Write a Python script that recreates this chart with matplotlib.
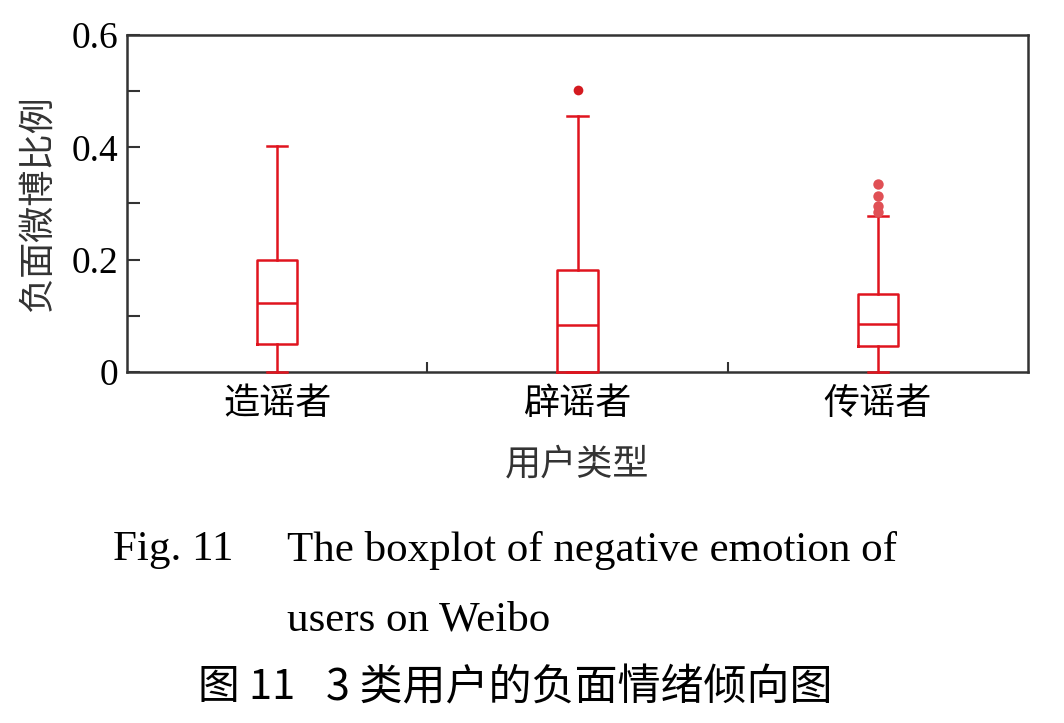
import matplotlib
matplotlib.use('Agg')
import matplotlib.pyplot as plt
from matplotlib.ticker import MultipleLocator, FixedLocator, NullFormatter

plt.rcParams['font.family'] = ['Liberation Serif', 'Noto Sans CJK SC']

# data
groups = ['造谣者', '辟谣者', '传谣者']
whislo = [0.0, 0.0, 0.0]
q1 = [0.050, 0.0, 0.046]
med = [0.123, 0.084, 0.085]
q3 = [0.200, 0.182, 0.139]
whishi = [0.402, 0.456, 0.278]
fliers = [[], [0.502], [0.335, 0.313, 0.295, 0.284]]

red = '#e0141e'
cjk = ['Noto Sans CJK SC', 'Liberation Serif']

fig = plt.figure(figsize=(10.64, 7.23), dpi=100)
ax = fig.add_axes([127/1064, 1-372/723, 901/1064, 337/723])

stats = []
for i in range(3):
    stats.append(dict(label=groups[i], whislo=whislo[i], q1=q1[i], med=med[i],
                      q3=q3[i], whishi=whishi[i], fliers=fliers[i]))

lw = 1.8
art = ax.bxp(stats, positions=[1, 2, 3], widths=0.135, showfliers=False,
             boxprops=dict(color=red, linewidth=lw),
             whiskerprops=dict(color=red, linewidth=lw),
             capprops=dict(color=red, linewidth=lw),
             medianprops=dict(color=red, linewidth=lw))
# the red boxes sit on top of the axis line, like in the original
for key in art:
    for a in art[key]:
        a.set_zorder(5)
        a.set_clip_on(False)
# outliers drawn separately to keep the lighter tint of the third group
ax.plot([2] * len(fliers[1]), fliers[1], 'o', color='#d41a20', ms=7, mec='none', zorder=5)
ax.plot([3] * len(fliers[2]), fliers[2], 'o', color='#e05055', ms=7.5, mec='none', zorder=5)

ax.set_xlim(0.5, 3.5)
ax.set_ylim(0, 0.6)
ax.yaxis.set_minor_locator(MultipleLocator(0.1))
ax.set_yticks([0, 0.2, 0.4, 0.6])
ax.set_yticklabels(['0', '0.2', '0.4', '0.6'], fontsize=27)
ax.set_xticks([1, 2, 3])
ax.set_xticklabels(groups, fontsize=26, family=cjk)
ax.xaxis.set_minor_locator(FixedLocator([1.5, 2.5]))
ax.xaxis.set_minor_formatter(NullFormatter())
ax.tick_params(axis='x', which='major', length=0, pad=10)
ax.tick_params(axis='x', which='minor', direction='in', length=7, width=1.5, color='#333333')
ax.tick_params(axis='y', which='both', direction='in', length=9, width=1.5, color='#333333', pad=6)

for s in ax.spines.values():
    s.set_color('#333333')
    s.set_linewidth(1.8)

ax.set_xlabel('用户类型', fontsize=26, family=cjk, color='#333333', labelpad=18)
ax.set_ylabel('负面微博比例', fontsize=26, family=cjk, color='#333333', labelpad=12)

fig.text(113/1064, 1-550/723, 'Fig. 11', fontsize=31, va='center', ha='left')
fig.text(287/1064, 1-550/723, 'The boxplot of negative emotion of', fontsize=31, va='center', ha='left')
fig.text(287/1064, 1-620/723, 'users on Weibo', fontsize=31, va='center', ha='left')
fig.text(198/1064, 1-688/723, '图 11', fontsize=30, va='center', ha='left', family=cjk)
fig.text(326/1064, 1-688/723, '3 类用户的负面情绪倾向图', fontsize=31, va='center', ha='left', family=cjk)

fig.savefig('out.png', dpi=100)
